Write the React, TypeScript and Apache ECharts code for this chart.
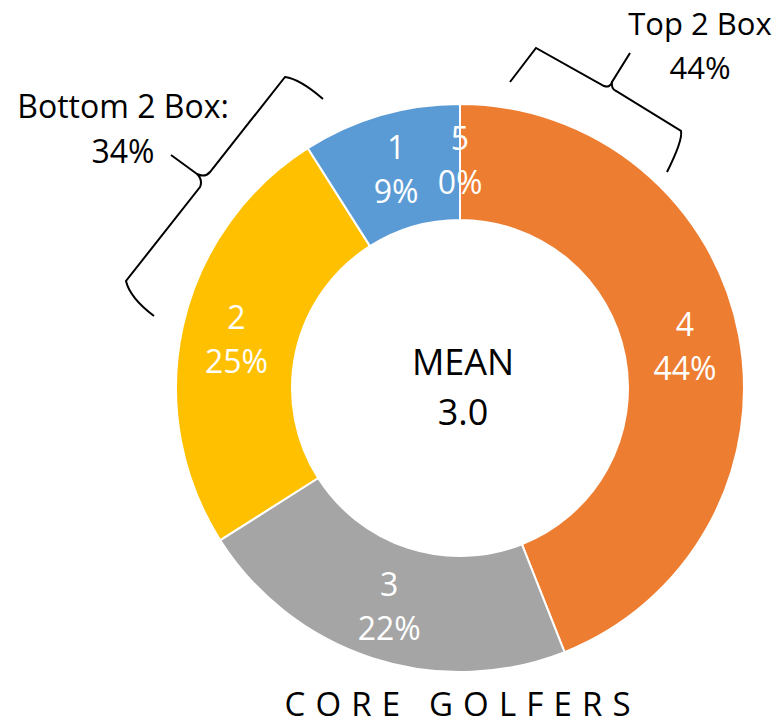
import React, { useEffect, useRef } from "react";
import * as echarts from "echarts";

const categories = ["5", "4", "3", "2", "1"];
const values = [0, 44, 22, 25, 9];
const colors = ["#ED7D31", "#ED7D31", "#A5A5A5", "#FFC000", "#5B9BD5"];
const centerText = "MEAN\n3.0";
const topBoxText = "Top 2 Box\n44%";
const bottomBoxText = "Bottom 2 Box:\n34%";
const footerText = "CORE GOLFERS";

const FONT = "'Open Sans', 'DejaVu Sans', sans-serif";

const leftBrace =
  "M323,99 Q300,79 285,77 L210,172 Q205,178 197,174 L171,155 M197,174 Q203,180 200,187 L126,281 Q130,298 154,316";
const rightBrace =
  "M510,82 L536,48 L604,86 Q610,88 612,82 L630,53 M612,82 Q611,89 616,91 L681,131 Q683,140 667,172";

echarts.graphic.registerShape("leftBrace", echarts.graphic.extendPath(leftBrace, {}));
echarts.graphic.registerShape("rightBrace", echarts.graphic.extendPath(rightBrace, {}));

function footerLetters(): any[] {
  const size = 33;
  const targetWidth = 346;
  const ctx = document.createElement("canvas").getContext("2d");
  const widths: number[] = [];
  for (const ch of footerText) {
    if (ctx) {
      ctx.font = `${size}px 'Open Sans'`;
      widths.push(ctx.measureText(ch).width);
    } else {
      widths.push(ch === " " ? size * 0.26 : size * 0.62);
    }
  }
  const natural = widths.reduce((a, b) => a + b, 0);
  const spacing = (targetWidth - natural) / (widths.length - 1);
  let x = 457.5 - targetWidth / 2;
  const out: any[] = [];
  Array.from(footerText).forEach((ch, i) => {
    if (ch !== " ") {
      out.push({
        type: "text",
        x,
        y: 703,
        style: {
          text: ch,
          font: `${size}px ${FONT}`,
          fill: "#000",
          textAlign: "left",
          textVerticalAlign: "middle",
        },
      });
    }
    x += widths[i] + spacing;
  });
  return out;
}

export default function App() {
  const ref = useRef<HTMLDivElement>(null);
  useEffect(() => {
    if (!ref.current) return;
    const chart = echarts.init(ref.current, null, { renderer: "svg" });
    chart.setOption({
      animation: false,
      backgroundColor: "#fff",
      series: [
        {
          type: "pie",
          center: [460, 388],
          radius: [168, 284],
          startAngle: 90,
          clockwise: true,
          avoidLabelOverlap: false,
          minShowLabelAngle: -1,
          data: categories.map((c, i) => ({
            name: c,
            value: values[i],
            itemStyle: { color: colors[i] },
          })),
          itemStyle: { borderColor: "#fff", borderWidth: 2 },
          label: {
            show: true,
            position: "inside",
            formatter: "{b}\n{d}%",
            color: "#fff",
            fontFamily: FONT,
            fontSize: 32,
            lineHeight: 44,
          },
          labelLine: { show: false },
          emphasis: { disabled: true },
        },
      ],
      graphic: [
        {
          type: "text",
          x: 463,
          y: 386,
          style: {
            text: centerText,
            font: `36px ${FONT}`,
            lineHeight: 50,
            fill: "#000",
            textAlign: "center",
            textVerticalAlign: "middle",
          },
        },
        {
          type: "text",
          x: 700,
          y: 45,
          style: {
            text: topBoxText,
            font: `31px ${FONT}`,
            lineHeight: 44,
            fill: "#000",
            textAlign: "center",
            textVerticalAlign: "middle",
          },
        },
        {
          type: "text",
          x: 123,
          y: 128,
          style: {
            text: bottomBoxText,
            font: `32px ${FONT}`,
            lineHeight: 45,
            fill: "#000",
            textAlign: "center",
            textVerticalAlign: "middle",
          },
        },
        {
          type: "leftBrace",
          x: 0,
          y: 0,
          style: { stroke: "#000", lineWidth: 2, fill: "none" },
        },
        {
          type: "rightBrace",
          x: 0,
          y: 0,
          style: { stroke: "#000", lineWidth: 2, fill: "none" },
        },
        ...footerLetters(),
      ],
    });
    return () => chart.dispose();
  }, []);
  return (
    <div
      ref={ref}
      style={{ position: "fixed", left: 0, top: 0, width: 776, height: 725 }}
    />
  );
}
